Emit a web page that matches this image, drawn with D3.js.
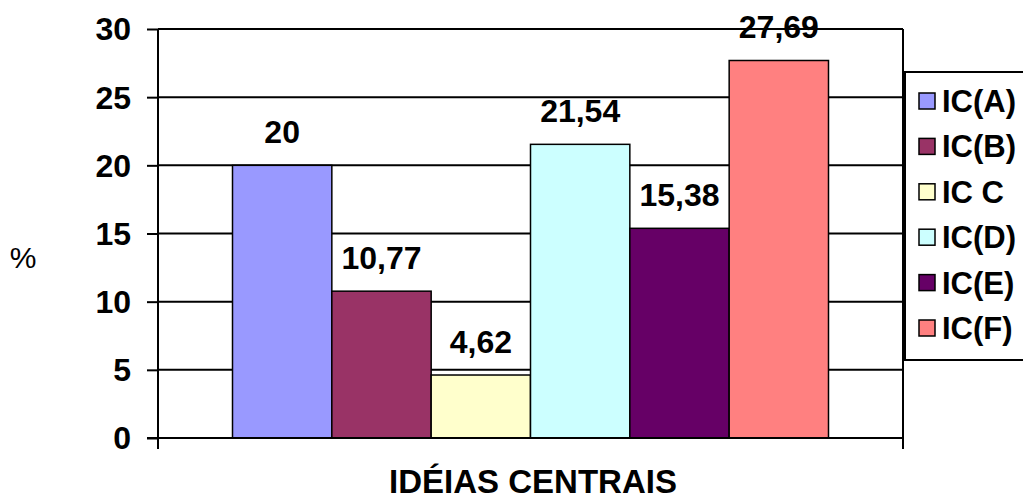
<!DOCTYPE html>
<html>
<head>
<meta charset="utf-8">
<script src="https://cdn.jsdelivr.net/npm/d3@7"></script>
<style>
  html, body { margin: 0; padding: 0; background: #fff; }
  svg { display: block; }
  text { font-family: "Liberation Sans", Arial, sans-serif; }
</style>
</head>
<body>
<svg id="chart" width="1023" height="500"></svg>
<script>
const categories = ["IC(A)", "IC(B)", "IC C", "IC(D)", "IC(E)", "IC(F)"];
const values = [20, 10.77, 4.62, 21.54, 15.38, 27.69];
const colors = ["#9999FF", "#993366", "#FFFFCC", "#CCFFFF", "#660066", "#FF8080"];
const yTicks = [0, 5, 10, 15, 20, 25, 30];
const yLabel = "%";
const xTitle = "IDÉIAS CENTRAIS";

(function () {
const svg = d3.select("#chart");
const pL = 158, pR = 903, pT = 29, pB = 438;

const y = d3.scaleLinear().domain([0, 30]).range([pB, pT]);
const x = d3.scaleBand().domain(categories).range([pL, pR])
  .paddingInner(0).paddingOuter(0.75);

const fmt = v => String(v).replace(".", ",");

// gridlines
svg.append("g").selectAll("line").data(yTicks.filter(t => t > 0)).join("line")
  .attr("x1", pL).attr("x2", pR)
  .attr("y1", d => y(d)).attr("y2", d => y(d))
  .attr("stroke", "#000").attr("stroke-width", 2);

// right border
svg.append("line").attr("x1", pR).attr("x2", pR)
  .attr("y1", pT).attr("y2", pB + 11)
  .attr("stroke", "#000").attr("stroke-width", 2);

// bars
svg.append("g").selectAll("rect").data(values).join("rect")
  .attr("x", (d, i) => x(categories[i]))
  .attr("y", d => y(d))
  .attr("width", x.bandwidth())
  .attr("height", d => pB - y(d))
  .attr("fill", (d, i) => colors[i])
  .attr("stroke", "#000").attr("stroke-width", 1.5);

// y axis
const yAxis = d3.axisLeft(y).tickValues(yTicks).tickSize(11).tickPadding(16);
const gy = svg.append("g").attr("transform", `translate(${pL},0)`).call(yAxis);
gy.select(".domain").attr("stroke", "#000").attr("stroke-width", 2)
  .attr("d", `M0,${pT}V${pB + 11}`);
gy.selectAll(".tick line").attr("stroke", "#000").attr("stroke-width", 2);
gy.selectAll(".tick text").attr("font-size", 32).attr("font-weight", "bold")
  .attr("fill", "#000").attr("font-family", "Liberation Sans, Arial, sans-serif")
  .attr("dy", "0.34em");

// x axis baseline
svg.append("line").attr("x1", pL - 11).attr("x2", pR)
  .attr("y1", pB).attr("y2", pB)
  .attr("stroke", "#000").attr("stroke-width", 2);

// value labels
svg.append("g").selectAll("text").data(values).join("text")
  .attr("x", (d, i) => x(categories[i]) + x.bandwidth() / 2)
  .attr("y", d => y(d) - 22)
  .attr("text-anchor", "middle")
  .attr("font-size", 32).attr("font-weight", "bold")
  .text(d => fmt(d));

// y label
svg.append("text").attr("x", 23).attr("y", 268)
  .attr("text-anchor", "middle").attr("font-size", 30)
  .text(yLabel);

// x title
svg.append("text").attr("x", 533).attr("y", 493)
  .attr("text-anchor", "middle").attr("font-size", 33).attr("font-weight", "bold")
  .text(xTitle);

// legend
const lg = svg.append("g");
lg.append("rect").attr("x", 905).attr("y", 72).attr("width", 130).attr("height", 288)
  .attr("fill", "#fff").attr("stroke", "#000").attr("stroke-width", 2);
const ly0 = 101, lstep = 45.4;
const items = lg.selectAll("g.item").data(categories).join("g").attr("class", "item")
  .attr("transform", (d, i) => `translate(0,${ly0 + i * lstep})`);
items.append("rect").attr("x", 919).attr("y", -8).attr("width", 16).attr("height", 16)
  .attr("fill", (d, i) => colors[i]).attr("stroke", "#000").attr("stroke-width", 1.5);
items.append("text").attr("x", 942).attr("y", 11)
  .attr("font-size", 31).attr("font-weight", "bold")
  .text(d => d);
})();
</script>
</body>
</html>
